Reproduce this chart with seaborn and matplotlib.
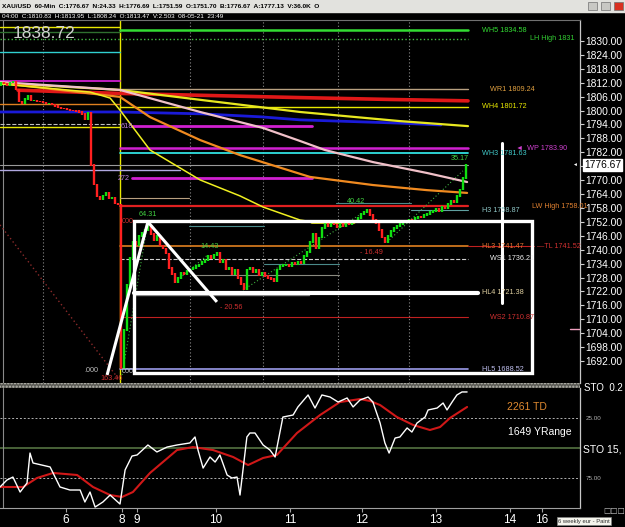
import numpy as np
import seaborn as sns
import matplotlib.pyplot as plt
import matplotlib.transforms as mtrans
from matplotlib.patches import Rectangle

W, H = 625, 527

# ---- price bars (hourly closes, before / after the weekend gap) ----
closes = [
    1812, 1811.5, 1811, 1812, 1812.5, 1809, 1804, 1803, 1805, 1806.5,
    1804.5, 1804.5, 1804, 1803.8, 1803.5, 1803, 1803, 1802.5, 1802, 1801.2,
    1801, 1800.8, 1800.3, 1800.2, 1800, 1799.8, 1799.4, 1798.5, 1796, 1799,
    1776.5, 1768, 1763, 1761.5, 1763.5, 1764.5, 1762, 1762.5, 1760, 1759.5,
    1688.9, 1705.4, 1724.8, 1736.4, 1743.3, 1742.0, 1745.9, 1747.6, 1748.5, 1750.2,
    1746.8, 1744.2, 1745.9, 1742.0, 1740.7, 1738.2, 1732.1, 1729.5, 1726.1, 1727.8,
    1730.0, 1729.5, 1730.8, 1731.3, 1732.1, 1733.0, 1733.8, 1734.7, 1735.6, 1737.3,
    1736.4, 1737.7, 1738.6, 1734.7, 1735.6, 1731.3, 1732.1, 1729.5, 1731.3, 1727.8,
    1725.2, 1723.0, 1731.3, 1732.1, 1730.4, 1731.3, 1729.1, 1730.0, 1728.7, 1727.8,
    1727.4, 1726.5, 1731.3, 1733.0, 1733.4, 1733.8, 1733.0, 1734.3, 1733.8, 1734.7,
    1734.3, 1737.3, 1739.0, 1743.3, 1746.8, 1740.7, 1745.1, 1749.4, 1751.1, 1750.2,
    1752.0, 1750.7, 1749.8, 1751.5, 1750.2, 1751.1, 1750.7, 1752.0, 1752.4, 1753.7,
    1755.4, 1756.3, 1757.1, 1755.0, 1753.2, 1751.5, 1748.5, 1745.1, 1743.3, 1745.9,
    1748.1, 1749.4, 1750.2, 1751.1, 1752.0, 1752.0, 1753.2, 1752.8, 1753.7, 1754.5,
    1754.1, 1755.0, 1755.4, 1756.3, 1756.7, 1757.6, 1756.7, 1758.4, 1757.6, 1759.7,
    1761.0, 1760.6, 1763.2, 1765.8, 1770.9, 1776.67,
]
first_open = 1811.0

# ---- moving averages (hour, price) ----
ma_red_h = [6, 20, 40, 70, 100, 130, 156]
ma_red_p = [1808.8, 1808.2, 1807.4, 1806.5, 1805.6, 1804.8, 1804.2]
ma_yel_h = [0, 40, 67, 100, 133, 156]
ma_yel_p = [1811.9, 1808.9, 1804.6, 1799.4, 1795.5, 1793.3]
ma_blue_h = [0, 40, 67, 87, 100, 133, 147]
ma_blue_p = [1799.4, 1799.4, 1798.6, 1797.3, 1796.0, 1794.6, 1793.8]
ma_pink_h = [0, 40, 66.7, 87.7, 100, 108.3, 124.3, 142.3, 155.7]
ma_pink_p = [1812.3, 1808.9, 1799.4, 1792.5, 1786.9, 1783.0, 1777.8, 1773.1, 1769.2]
ma_orng_h = [0, 40, 50, 66.7, 80, 103.3, 124.3, 142.3, 155.7]
ma_orng_p = [1811.9, 1805.9, 1797.2, 1787.3, 1780.8, 1771.4, 1767.9, 1765.7, 1764.5]
ma_fast_h = [0, 30, 36.7, 40, 50, 66.7, 80, 87.7, 100, 104.3]
ma_fast_p = [1811.5, 1808.0, 1805.4, 1800.2, 1783.0, 1770.1, 1763.2, 1758.4, 1752.8, 1752.0]

# ---- horizontal levels: price, start hour, end hour ----
lvl_price = [1836.0, 1834.0, 1834.58, 1831.0, 1825.3, 1812.7, 1809.24, 1803.0, 1801.72,
             1793.0, 1794.2, 1793.3, 1783.90, 1781.63, 1776.67, 1774.3, 1770.9, 1762.3,
             1758.87, 1757.2, 1750.2, 1760.0, 1741.47, 1736.21, 1733.9, 1729.3, 1720.3,
             1710.87, 1688.52, 1741.52, 1752.0]
lvl_start = [0, 0, 40, 0, 0, 0, 40, 0, 40, 0, 0, 44, 40, 40, 0, 0, 44, 40,
             40, 137, 63, 112, 40, 40, 88, 64, 44.7, 40, 40, 156, 104]
lvl_end = [40, 40, 156, 156, 40, 40, 156, 40, 156, 40, 40, 104, 156, 156, 156, 60, 104, 63,
           156, 156, 88, 137, 156, 156, 113, 113, 103, 156, 156, 178, 118]
lvl_color = ['#e8e800', '#2f6f2f', '#33dd33', '#44bb44', '#30d0d0', '#d020d0', '#b8a080',
             '#e08020', '#e8e800', '#e8e800', '#c0c0c0', '#d020d0', '#d020d0', '#30e0e0',
             '#9a9a9a', '#b0a8e0', '#d020d0', '#b8a080', '#e02020', '#60a0a0', '#4a8a8a',
             '#4a8a8a', '#e08020', '#d0d0d0', '#4a8a8a', '#8a8a80', '#808080', '#c02020',
             '#9a9ae8', '#c02020', '#e8e800']
lvl_width = [1.0, 1.0, 1.8, 1.0, 1.0, 1.3, 1.0, 1.0, 1.0, 1.0, 0.8, 2.0, 1.8, 1.3,
             0.8, 1.0, 2.0, 0.8, 1.6, 0.8, 0.8, 0.8, 1.2, 0.8, 0.8, 0.8, 1.0, 0.8,
             1.2, 0.8, 2.6]
lvl_style = ['-', '-', '-', ':', '-', '-', '-', '-', '-', '-', '--', '-', '-', '-',
             '-', '-', '-', '-', '-', '-', '-', '-', '-', '--', '-', '-', '-', '-',
             '-', '-', '-']

# level captions (text, hour, price)
cap_text = ['WH5 1834.58', 'LH High 1831', 'WR1 1809.24', 'WH4 1801.72', '\u25c4  WP 1783.90',
            'WH3 1781.63', 'H3 1758.87', 'LW High 1758.01', 'HL3 1741.47', '\u2014TL 1741.52',
            'WS1 1736.21', 'HL4 1721.38', 'WS2 1710.87', 'HL5 1688.52',
            '35.17', '64.31', '14.43', '- 20.56', '40.42', '- 16.49',
            '618', '272', '000', '000', '.000', '163.46']
cap_h = [160.7, 176.7, 163.3, 160.7, 172.0, 160.7, 160.7, 177.3, 160.7, 179.0,
         163.3, 160.7, 163.3, 160.7,
         150.3, 46.3, 66.7, 73.3, 115.7, 120.0, 40.3, 39.3, 40.7, 40.7, 28.0, 33.5]
cap_p = [1834.58, 1831.0, 1809.24, 1801.72, 1783.90, 1781.63, 1757.0, 1758.5, 1741.47,
         1741.47, 1736.21, 1721.38, 1710.87, 1688.52,
         1779.5, 1755.4, 1741.2, 1714.9, 1761.0, 1739.0, 1793.3, 1770.9, 1752.0,
         1687.3, 1688.0, 1684.6]
cap_color = ['#33dd33', '#33cc33', '#e0a040', '#e8e800', '#d040d0', '#40c8c8', '#90c8c8',
             '#e08030', '#e07030', '#d03030', '#f0f0f0', '#e0d0a0', '#d03030', '#c0c0f0',
             '#40d040', '#40d040', '#40d040', '#d03030', '#40d040', '#d03030',
             '#c080e0', '#c080e0', '#d03030', '#c0c0c0', '#c0c0c0', '#d03030']

# hand-drawn trend lines (hour, price)
swing_h = [35.7, 49.3, 72.3]
swing_p = [1686.0, 1752.0, 1717.5]
box_h = [44.7, 177.3]
box_p = [1686.8, 1752.4]
hl4_h = [44.7, 159.3]
target_h = 167.3
target_p = [1717.0, 1786.0]
day_lines = [14.3, 63.3, 87.7, 112.7, 136.3]

# ---- stochastic (hour, value) ----
sto_w_h = [0, 2.3, 4.3, 6.7, 9, 10, 11, 16.7, 20, 23.3, 26.7, 28.3, 30, 31.7, 34.3, 36.7,
           40, 41.7, 44, 45.7, 49.3, 52.3, 55.7, 59, 63.3, 65, 66, 67.7, 70, 71.7, 73.3,
           75.7, 77.3, 79, 80, 82.3, 83.3, 85, 87.7, 90, 91.7, 94.3, 97.7, 99.3, 102.7,
           105, 107.3, 110, 112.7, 115.7, 117.7, 120, 122.7, 124.3, 126.7, 128.3, 129.7,
           131.7, 133.3, 135.7, 137.3, 139, 141.7, 142.7, 145.7, 147.7, 149, 150.7, 152.3,
           154, 155.7]
sto_w_v = [82.5, 76.7, 74.2, 86.7, 79.2, 54.2, 62.5, 65.8, 82.5, 85, 85, 95, 86.7, 99.2,
           95, 89.2, 96.7, 68.3, 56.7, 55.8, 47.5, 53.3, 49.2, 47.5, 45.8, 40.8, 51.7, 66.7,
           57.5, 61.7, 55.8, 72.5, 75, 74.2, 89.2, 40.8, 37.5, 37.5, 47.5, 51.7, 57.5, 24.2,
           22.5, 15.8, 5.8, 16.7, 5.8, 7.5, 11.7, 8.3, 15.8, 10, 7.5, 11.7, 29.2, 45.8, 54.2,
           41.7, 40.8, 33.3, 36.7, 29.2, 24.2, 18.3, 16.7, 12.5, 18.3, 11.7, 5.8, 3.3, 3.3]
sto_r_h = [0, 7.7, 12.3, 17.7, 25.7, 31, 36.7, 40.7, 44.3, 50, 59, 64.3, 71, 77.7, 82.7,
           87.7, 92.3, 99, 106.7, 113.3, 120, 123.3, 126.7, 132.3, 137.7, 143.3, 146.7,
           150, 155.7]
sto_r_v = [82.5, 82.5, 75, 70.8, 72.5, 82.5, 89.2, 90.8, 86.7, 70.8, 51.7, 49.2, 51.7,
           57.5, 64.2, 58.3, 55.8, 37.5, 22.5, 11.7, 9.2, 10.8, 14.2, 24.2, 30.8, 35, 32.5,
           25, 15.8]

price_ticks = list(range(1692, 1831, 6))
day_ticks = [22, 40.7, 45.7, 72, 96.7, 120.7, 145.3, 170, 180.7]
day_labels = ['6', '8', '9', '10', '11', '12', '13', '14', '16']

header1 = ("XAU/USD  60-Min  C:1776.67  N:24.33  H:1776.69  L:1751.59  O:1751.70  "
           "B:1776.67  A:1777.13  V:36.0K  O")
header2 = "04:00  C:1810.83  H:1813.95  L:1808.24  O:1813.47  V:2.503  08-05-21  23:49"

# ---------------------------------------------------------------
sns.set_style("dark", {"axes.facecolor": "black", "figure.facecolor": "black"})
plt.rcParams['font.family'] = ['Liberation Sans', 'DejaVu Sans']
NARROW = ['Liberation Sans Narrow', 'Liberation Sans', 'DejaVu Sans']

fig = plt.figure(figsize=(6.25, 5.27), dpi=100)


def fx(px):
    return px / W


def fy(py):
    return 1 - py / H


ax = fig.add_axes([0, fy(383), fx(580), (383 - 20) / H])
ax2 = fig.add_axes([0, fy(508), fx(580), (508 - 388) / H])

# header strip with window buttons
fig.add_artist(Rectangle((0, fy(12)), 1, 12 / H, transform=fig.transFigure,
                         color='#e2e2de', zorder=0))
fig.text(fx(2), fy(6), header1, fontsize=4.65, fontweight='bold', family=NARROW,
         color='black', va='center')
fig.text(fx(2), fy(16), header2, fontsize=4.55, family=NARROW, color='white', va='center')
for bx, col in [(588, '#c8c8c4'), (601, '#c8c8c4'), (614, '#d83020')]:
    fig.add_artist(Rectangle((fx(bx), fy(10)), fx(9), 8 / H, transform=fig.transFigure,
                             fc=col, ec='#707070', lw=0.5, zorder=1))
fig.text(fx(13), fy(33), '1838.72', fontsize=12.5, color='#cfcfcf', va='center', zorder=10)

# ---- main panel ----
c = np.array(closes)
o = np.r_[first_open, c[:-1]]
hours = np.arange(len(c)) + 0.33
up = c >= o
lo = np.minimum(o, c) - 0.25
hi = np.maximum(o, c) + 0.25

for h in day_lines:
    ax.axvline(h, color='#8a8a8a', ls=(0, (1, 2)), lw=0.8, zorder=1)
ax.axvline(1.0, color='#8a8a8a', lw=0.8, zorder=1)
ax.axvline(40.0, color='#e8e800', lw=1.0, zorder=2)

for p, a, b, col, lw, ls in zip(lvl_price, lvl_start, lvl_end, lvl_color, lvl_width, lvl_style):
    ax.plot([a, b], [p, p], color=col, lw=lw, ls=ls, zorder=2)

ax.plot([0, 39.3], [1750.7, 1684.7], color='#8a2a2a', ls=(0, (1, 2)), lw=1.0, zorder=2)
for xs, ys in [([40.7, 49.3], [1686.0, 1752.0]), ([58.3, 69.0], [1726.0, 1737.5]),
               ([81.0, 122.3], [1722.6, 1757.1]), ([129.0, 154.3], [1743.3, 1774.0])]:
    ax.plot(xs, ys, color='#40b040', ls=(0, (1, 2)), lw=0.8, zorder=3)

for hh, pp, col, lw in [(ma_red_h, ma_red_p, '#e01818', 2.6), (ma_blue_h, ma_blue_p, '#1a1ad8', 2.0),
                        (ma_yel_h, ma_yel_p, '#e8e820', 1.6), (ma_pink_h, ma_pink_p, '#f0c0c8', 1.6),
                        (ma_orng_h, ma_orng_p, '#f08a20', 1.6), (ma_fast_h, ma_fast_p, '#f0f020', 1.1)]:
    sns.lineplot(x=hh, y=pp, ax=ax, color=col, linewidth=lw, zorder=3)

ax.vlines(hours[up], lo[up], hi[up], colors='#10e010', lw=1.7, zorder=5)
ax.vlines(hours[~up], lo[~up], hi[~up], colors='#ff2020', lw=1.7, zorder=5)

# white drawings
ax.plot(swing_h, swing_p, color='white', lw=2.2, zorder=6, solid_capstyle='butt')
ax.add_patch(Rectangle((box_h[0], box_p[0]), box_h[1] - box_h[0], box_p[1] - box_p[0],
                       fill=False, ec='white', lw=2.4, zorder=6))
ax.plot(hl4_h, [1721.38, 1721.38], color='white', lw=3.0, zorder=6)
ax.plot([target_h, target_h], target_p, color='white', lw=2.2, zorder=6)
ax.plot([190.0, 193.3], [1706.0, 1706.0], color='#f0a0c0', lw=1.0, clip_on=False)

for t, hh, pp, col in zip(cap_text, cap_h, cap_p, cap_color):
    ax.text(hh, pp, t, color=col, fontsize=5.2, va='center', ha='left', zorder=7, family=NARROW)

ax.set_xlim(0, 580 / 3)
ax.set_ylim(1682.53, 1839.06)
ax.set_xticks([])
ax.yaxis.tick_right()
ax.set_yticks(price_ticks)
ax.set_yticklabels([f"{v:.2f}" for v in price_ticks])
ax.tick_params(axis='y', colors='#d0d0d0', labelcolor='white', labelsize=7.4,
               length=3, width=0.8, pad=1, direction='out', right=True)
ax.set_xlabel('')
ax.set_ylabel('')
for s in ['left', 'bottom']:
    ax.spines[s].set_visible(False)
ax.spines['top'].set_color('#707070')
ax.spines['right'].set_color('#c8c8c8')
ax.spines['right'].set_linewidth(0.9)
ax.grid(False)

blend = mtrans.blended_transform_factory(ax.transAxes, ax.transData)
ax.text(1.0 + 4 / 580, 1776.67, '1776.67', transform=blend, fontsize=7.4, color='black',
        va='center', ha='left', zorder=8,
        bbox=dict(boxstyle='square,pad=0.08', fc='white', ec='white'))
ax.text(1.0 - 6 / 580, 1776.67, '\u25c4', transform=blend, fontsize=3.5, color='white',
        va='center', ha='center', clip_on=False)

# ---- stochastic panel ----
for yv, ls, col, lw in [(25, (0, (2, 2)), '#b0b0b0', 0.7), (75, (0, (2, 2)), '#b0b0b0', 0.7),
                        (50, '-', '#4e6a3c', 1.3)]:
    ax2.axhline(yv, color=col, ls=ls, lw=lw, zorder=1)
ax2.axvline(1.0, color='#8a8a8a', lw=0.8, zorder=1)
sns.lineplot(x=sto_r_h, y=sto_r_v, ax=ax2, color='#d01818', linewidth=1.5, zorder=3)
sns.lineplot(x=sto_w_h, y=sto_w_v, ax=ax2, color='white', linewidth=1.0, zorder=4)
ax2.text(169.0, 15.8, '2261 TD', color='#e08a30', fontsize=7.5, va='center')
ax2.text(169.3, 36.7, '1649 YRange', color='white', fontsize=7.5, va='center')

ax2.set_xlim(0, 580 / 3)
ax2.set_ylim(100, 0)
ax2.set_yticks([])
ax2.set_xticks(day_ticks)
ax2.set_xticklabels(day_labels)
ax2.tick_params(axis='x', colors='#a0a0a0', labelcolor='white', labelsize=8.5,
                length=3, width=0.8, pad=1, direction='out', bottom=True)
ax2.set_xlabel('')
ax2.set_ylabel('')
for s in ['left', 'top']:
    ax2.spines[s].set_visible(False)
ax2.spines['bottom'].set_color('#a0a0a0')
ax2.spines['right'].set_color('#c8c8c8')
ax2.spines['right'].set_linewidth(0.9)
ax2.grid(False)

# separator between panels and right-side labels
fig.add_artist(Rectangle((0, fy(388)), fx(580), 5 / H, transform=fig.transFigure,
                         fc='#5a5a55', ec='#b8b8b0', hatch='.....', lw=0, zorder=5))
fig.text(fx(584), fy(388), 'STO  0.2', fontsize=7, color='white', va='center')
fig.text(fx(586), fy(418), '25.00', fontsize=4.5, color='#b0b0b0', va='center')
fig.text(fx(586), fy(478), '75.00', fontsize=4.5, color='#b0b0b0', va='center')
fig.text(fx(583), fy(450), 'STO 15,', fontsize=7.5, color='white', va='center')
fig.text(fx(558), fy(521), '6 weekly eur - Paint', fontsize=4.2, color='#303030',
         va='center', bbox=dict(boxstyle='square,pad=0.25', fc='#f4f4ec', ec='#808080', lw=0.5))
fig.text(fx(603), fy(511), '\u25a1\u25a1\u25a1', fontsize=5.5, color='#c0c0c0', va='center',
         family=['DejaVu Sans'])

fig.savefig('out.png', dpi=100, facecolor='black')
